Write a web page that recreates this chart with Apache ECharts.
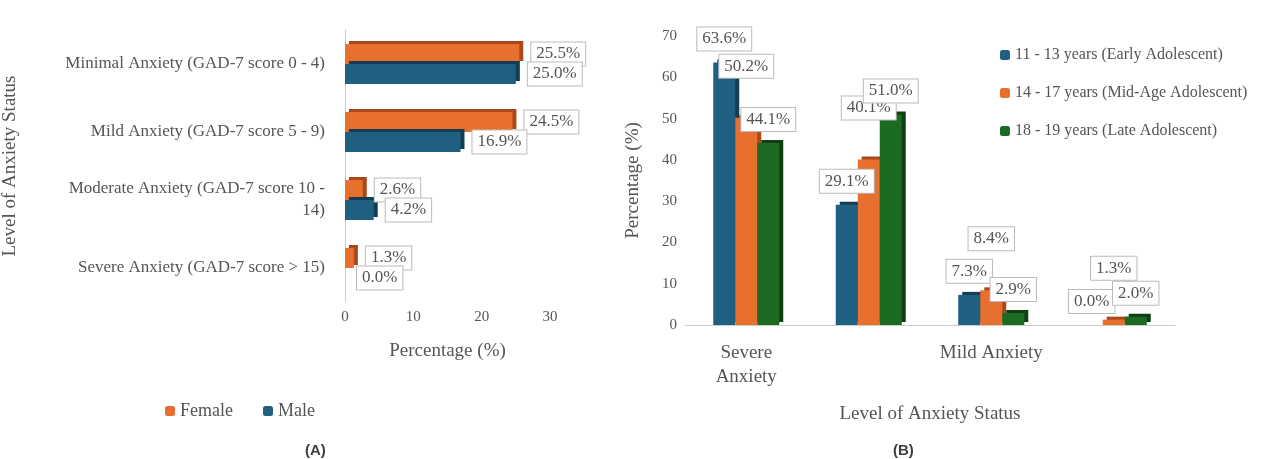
<!DOCTYPE html>
<html><head><meta charset="utf-8">
<script src="https://cdn.jsdelivr.net/npm/echarts@6/dist/echarts.min.js"></script>
<style>html,body{margin:0;background:#fff}#c{width:1280px;height:459px}</style>
</head><body><div id="c"></div>
<script>
// panel A
var catsA = ['Severe Anxiety (GAD-7 score > 15)', 'Moderate Anxiety (GAD-7 score 10 -\n14)', 'Mild Anxiety (GAD-7 score 5 - 9)', 'Minimal Anxiety (GAD-7 score 0 - 4)'];
var female = [1.3, 2.6, 24.5, 25.5];
var male = [0.0, 4.2, 16.9, 25.0];
// panel B
var catsB = ['Severe\nAnxiety', 'Moderate\nAnxiety', 'Mild Anxiety', 'Minimal\nAnxiety'];
var early = [63.6, 29.1, 7.3, 0.0];
var mid = [50.2, 40.1, 8.4, 1.3];
var late = [44.1, 51.0, 2.9, 2.0];

var font = 'Liberation Serif';
var blue = '#1f5f80', orange = '#e8702f', green = '#1d6b22';
var boxLabel = {
  show: true, formatter: function (p) { return p.value.toFixed(1) + '%'; },
  fontFamily: font, fontSize: 17, color: '#555', backgroundColor: '#fff',
  borderColor: '#bbb', borderWidth: 1, padding: [3, 5]
};
function lab(pos, dist) { return Object.assign({}, boxLabel, { position: pos, distance: dist }); }

var chart = echarts.init(document.getElementById('c'));
chart.setOption({
  backgroundColor: '#fff',
  textStyle: { fontFamily: font },
  title: [
    { text: '(A)', left: 300, top: 438, textStyle: { fontSize: 15, fontWeight: 'bold', fontFamily: 'Liberation Sans' } },
    { text: '(B)', left: 888, top: 438, textStyle: { fontSize: 15, fontWeight: 'bold', fontFamily: 'Liberation Sans' } }
  ],
  legend: [
    { data: ['Female', 'Male'], left: 160, top: 397, itemWidth: 10, itemHeight: 10, itemGap: 30,
      textStyle: { fontFamily: font, fontSize: 18, color: '#555' } },
    { data: ['11 - 13 years (Early Adolescent)', '14 - 17 years (Mid-Age Adolescent)', '18 - 19 years (Late Adolescent)'],
      orient: 'vertical', left: 995, top: 42, itemGap: 22, itemWidth: 10, itemHeight: 10,
      textStyle: { fontFamily: font, fontSize: 16, color: '#555' } }
  ],
  grid: [
    { left: 345, width: 205, top: 30, height: 272 },
    { left: 685, width: 490, top: 36, height: 289 }
  ],
  xAxis: [
    { gridIndex: 0, type: 'value', min: 0, max: 30, interval: 10, splitLine: { show: false },
      axisLabel: { fontSize: 15, color: '#555', fontFamily: font },
      name: 'Percentage (%)', nameLocation: 'middle', nameGap: 40,
      nameTextStyle: { fontSize: 19, color: '#555', fontFamily: font } },
    { gridIndex: 1, type: 'category', data: catsB, axisTick: { show: false },
      axisLine: { lineStyle: { color: '#ccc' } },
      axisLabel: { fontSize: 19, color: '#555', fontFamily: font, lineHeight: 24, margin: 16 },
      name: 'Level of Anxiety Status', nameLocation: 'middle', nameGap: 80,
      nameTextStyle: { fontSize: 19, color: '#555', fontFamily: font } }
  ],
  yAxis: [
    { gridIndex: 0, type: 'category', data: catsA, axisTick: { show: false },
      axisLine: { lineStyle: { color: '#ccc' } },
      axisLabel: { fontSize: 17, color: '#555', fontFamily: font, lineHeight: 22, margin: 20 },
      name: 'Level of Anxiety Status', nameLocation: 'middle', nameGap: 325,
      nameTextStyle: { fontSize: 19, color: '#555', fontFamily: font } },
    { gridIndex: 1, type: 'value', min: 0, max: 70, interval: 10, splitLine: { show: false },
      axisLabel: { fontSize: 15, color: '#555', fontFamily: font },
      name: 'Percentage (%)', nameLocation: 'middle', nameGap: 42,
      nameTextStyle: { fontSize: 19, color: '#555', fontFamily: font } }
  ],
  series: [
    { name: 'Female', type: 'bar', xAxisIndex: 0, yAxisIndex: 0, data: female, barWidth: 20, barGap: '0%',
      itemStyle: { color: orange, shadowColor: '#a9481a', shadowOffsetX: 4, shadowOffsetY: -3 },
      label: lab('right', 12) },
    { name: 'Male', type: 'bar', xAxisIndex: 0, yAxisIndex: 0, data: male, barWidth: 20,
      itemStyle: { color: blue, shadowColor: '#123d54', shadowOffsetX: 4, shadowOffsetY: -3 },
      label: lab('right', 12) },
    { name: '11 - 13 years (Early Adolescent)', type: 'bar', xAxisIndex: 1, yAxisIndex: 1, data: early,
      barWidth: 22, barGap: '0%',
      itemStyle: { color: blue, shadowColor: '#123d54', shadowOffsetX: 4, shadowOffsetY: -3 },
      label: lab('top', 12) },
    { name: '14 - 17 years (Mid-Age Adolescent)', type: 'bar', xAxisIndex: 1, yAxisIndex: 1, data: mid,
      barWidth: 22,
      itemStyle: { color: orange, shadowColor: '#a9481a', shadowOffsetX: 4, shadowOffsetY: -3 },
      label: lab('top', 40) },
    { name: '18 - 19 years (Late Adolescent)', type: 'bar', xAxisIndex: 1, yAxisIndex: 1, data: late,
      barWidth: 22,
      itemStyle: { color: green, shadowColor: '#0f4012', shadowOffsetX: 4, shadowOffsetY: -3 },
      label: lab('top', 12) }
  ]
});
</script></body></html>
